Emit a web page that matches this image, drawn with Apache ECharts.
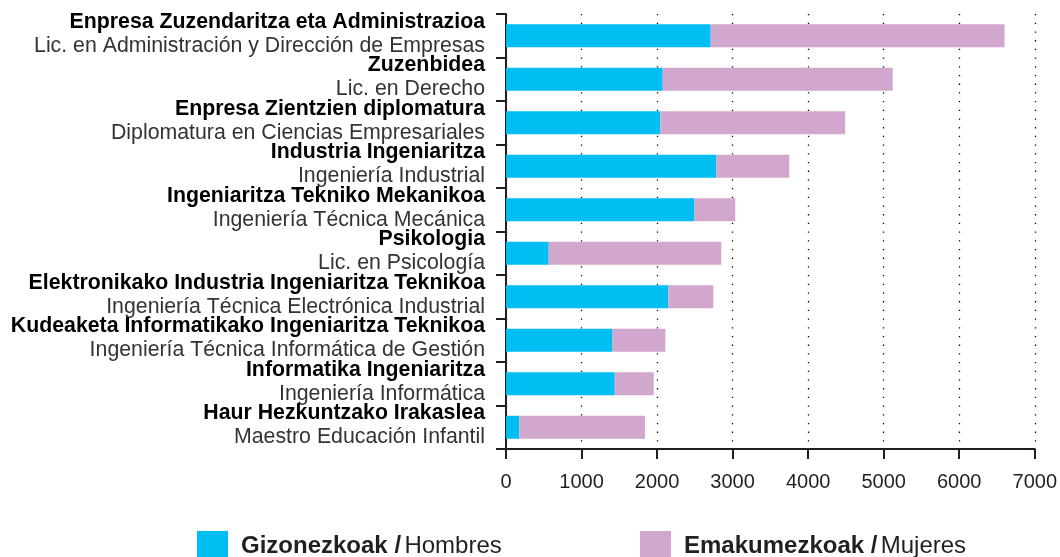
<!DOCTYPE html>
<html>
<head>
<meta charset="utf-8">
<script src="https://cdn.jsdelivr.net/npm/echarts@6/dist/echarts.min.js"></script>
<style>
  html, body { margin: 0; padding: 0; background: #fff; }
  #chart { width: 1060px; height: 557px; }
</style>
</head>
<body>
<div id="chart"></div>
<script>
// degree names: basque (bold) / spanish
const titlesEu = [
  'Enpresa Zuzendaritza eta Administrazioa',
  'Zuzenbidea',
  'Enpresa Zientzien diplomatura',
  'Industria Ingeniaritza',
  'Ingeniaritza Tekniko Mekanikoa',
  'Psikologia',
  'Elektronikako Industria Ingeniaritza Teknikoa',
  'Kudeaketa Informatikako Ingeniaritza Teknikoa',
  'Informatika Ingeniaritza',
  'Haur Hezkuntzako Irakaslea'
];
const titlesEs = [
  'Lic. en Administración y Dirección de Empresas',
  'Lic. en Derecho',
  'Diplomatura en Ciencias Empresariales',
  'Ingeniería Industrial',
  'Ingeniería Técnica Mecánica',
  'Lic. en Psicología',
  'Ingeniería Técnica Electrónica Industrial',
  'Ingeniería Técnica Informática de Gestión',
  'Ingeniería Informática',
  'Maestro Educación Infantil'
];
const hombres = [2710, 2075, 2045, 2785, 2495, 565, 2150, 1410, 1440, 175];
const mujeres = [3890, 3045, 2445, 965, 540, 2285, 595, 700, 515, 1665];
const xTicks = [0, 1000, 2000, 3000, 4000, 5000, 6000, 7000];

const categories = titlesEu.map((t, i) => t + '|' + titlesEs[i]);
const ink = '#231f20';
const font = '"Liberation Sans", Arial, sans-serif';

let chart = echarts.init(document.getElementById('chart'));

function legendText(size) {
  return {
    padding: [0, 0, 0, 8],
    rich: {
      b: { fontSize: size, fontWeight: 'bold', color: ink, fontFamily: font },
      r: { fontSize: size, color: ink, fontFamily: font }
    }
  };
}

chart.setOption({
  animation: false,
  textStyle: { fontFamily: font },
  grid: { left: 506, right: 22, top: 14, bottom: 108, containLabel: false },
  xAxis: {
    type: 'value',
    min: xTicks[0],
    max: xTicks[xTicks.length - 1],
    interval: 1000,
    axisLine: { show: true, lineStyle: { color: ink, width: 2 } },
    axisTick: { show: true, length: 10, lineStyle: { color: ink, width: 2 } },
    axisLabel: { color: ink, fontSize: 20, fontFamily: font, margin: 23, formatter: v => String(v) },
    splitLine: { show: true, lineStyle: { color: '#000', width: 1.3, type: [1.3, 7.4] } }
  },
  yAxis: {
    type: 'category',
    data: categories,
    inverse: true,
    axisLine: { show: true, lineStyle: { color: ink, width: 2 } },
    axisTick: { show: true, length: 10, lineStyle: { color: ink, width: 2 } },
    axisLabel: {
      interval: 0,
      margin: 21,
      align: 'right',
      lineHeight: 24,
      padding: [0, 0, 4, 0],
      formatter: v => {
        const p = v.split('|');
        return '{b|' + p[0] + '}\n{r|' + p[1] + '}';
      },
      rich: {
        b: { fontSize: 21.3, fontWeight: 'bold', color: '#000', fontFamily: font, lineHeight: 24, align: 'right' },
        r: { fontSize: 21.3, color: '#333', fontFamily: font, lineHeight: 24, align: 'right' }
      }
    },
    splitLine: { show: false }
  },
  legend: [
    {
      data: ['Gizonezkoak'],
      left: 197, top: 531, padding: 0,
      itemWidth: 31, itemHeight: 31, itemGap: 0,
      icon: 'rect',
      formatter: () => '{b|Gizonezkoak /} {r|Hombres}',
      textStyle: legendText(24)
    },
    {
      data: ['Emakumezkoak'],
      left: 640, top: 531, padding: 0,
      itemWidth: 31, itemHeight: 31, itemGap: 0,
      icon: 'rect',
      formatter: () => '{b|Emakumezkoak /} {r|Mujeres}',
      textStyle: legendText(24)
    }
  ],
  series: [
    {
      name: 'Gizonezkoak',
      type: 'bar',
      stack: 'total',
      barWidth: 23,
      itemStyle: { color: '#00bdf2' },
      data: hombres
    },
    {
      name: 'Emakumezkoak',
      type: 'bar',
      stack: 'total',
      barWidth: 23,
      itemStyle: { color: '#d2a7cd' },
      data: mujeres
    }
  ]
});
</script>
</body>
</html>
